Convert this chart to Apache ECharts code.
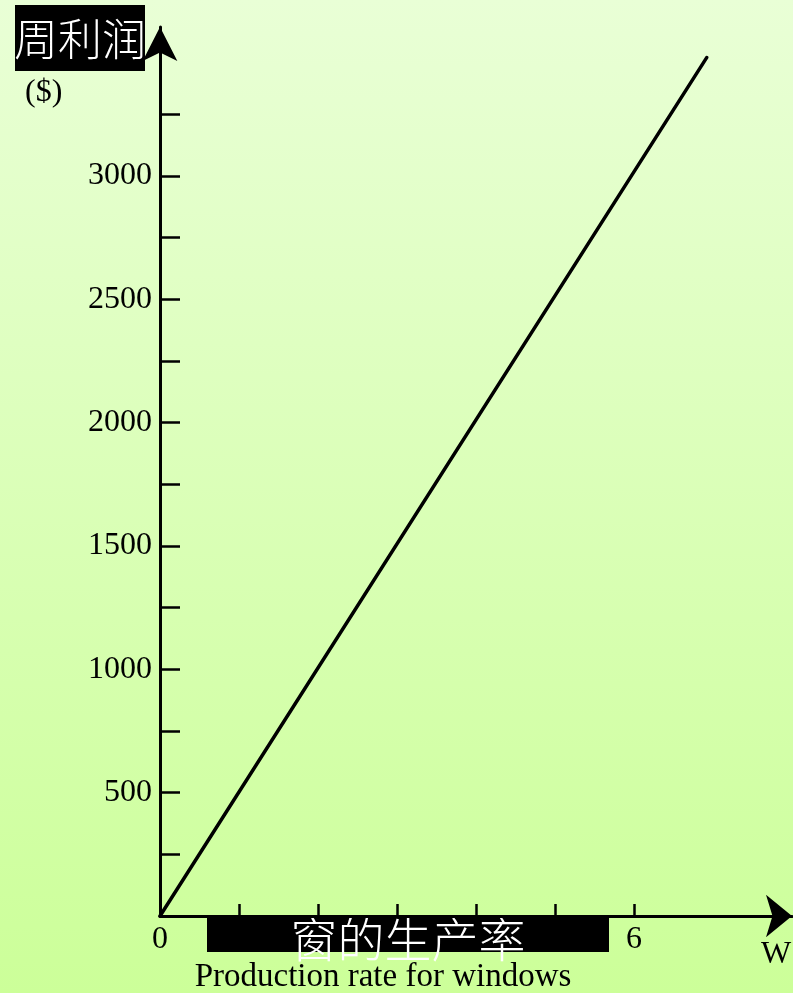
<!DOCTYPE html>
<html>
<head>
<meta charset="utf-8">
<script src="https://cdn.jsdelivr.net/npm/echarts@6/dist/echarts.min.js"></script>
<style>
  html, body { margin: 0; padding: 0; }
  #chart { width: 793px; height: 993px; }
</style>
</head>
<body>
<div id="chart"></div>
<script>
// Weekly profit as a function of the window production rate W
const profitLineW = [0, 6.92];
const profitLineP = [0, 3480];

// Axis ticks and labels
const yTickValues = [250, 500, 750, 1000, 1250, 1500, 1750, 2000, 2250, 2500, 2750, 3000, 3250];
const yLabelValues = [500, 1000, 1500, 2000, 2500, 3000];
const xTickValues = [1, 2, 3, 4, 5, 6];
const xLabelValues = [0, 6];

const serif = '"Liberation Serif", "DejaVu Serif", serif';
const cjk = '"Noto Sans CJK SC", sans-serif';

const chart = echarts.init(document.getElementById('chart'), null, { renderer: 'canvas' });

chart.setOption({
  backgroundColor: {
    type: 'linear', x: 0, y: 0, x2: 0, y2: 1,
    colorStops: [
      { offset: 0, color: '#e9ffd6' },
      { offset: 1, color: '#ccff99' }
    ]
  },
  animation: false,
  grid: { left: 160, right: 1, top: 27, bottom: 77 },
  xAxis: {
    type: 'value',
    min: 0,
    max: 8,
    interval: 1,
    splitLine: { show: false },
    axisLine: {
      show: true,
      lineStyle: { color: '#000', width: 3 },
      symbol: ['none', 'arrow'],
      symbolSize: [32, 26]
    },
    axisTick: {
      show: true,
      inside: true,
      length: 12,
      lineStyle: { color: '#000', width: 2.5 },
      customValues: xTickValues
    },
    axisLabel: {
      show: true,
      margin: 8,
      color: '#000',
      fontFamily: serif,
      fontSize: 32,
      formatter: v => String(v),
      customValues: xLabelValues
    }
  },
  yAxis: {
    type: 'value',
    min: 0,
    max: 3604,
    interval: 250,
    splitLine: { show: false },
    axisLine: {
      show: true,
      lineStyle: { color: '#000', width: 3 },
      symbol: ['none', 'arrow'],
      symbolSize: [26, 34]
    },
    axisTick: {
      show: true,
      inside: true,
      length: 20,
      lineStyle: { color: '#000', width: 2.5 },
      customValues: yTickValues
    },
    axisLabel: {
      show: true,
      margin: 8,
      color: '#000',
      fontFamily: serif,
      fontSize: 32,
      formatter: v => String(v),
      customValues: yLabelValues
    }
  },
  series: [{
    type: 'line',
    data: profitLineW.map((w, i) => [w, profitLineP[i]]),
    symbol: 'none',
    lineStyle: { color: '#000', width: 3.5, cap: 'round' },
    silent: true
  }],
  graphic: [
    // y-axis title block
    { type: 'rect', left: 15, top: 5, shape: { width: 130, height: 66 }, style: { fill: '#000' } },
    {
      type: 'text', x: 80, y: 39,
      style: { text: '周利润', fill: '#fff', font: '300 44px ' + cjk, align: 'center', verticalAlign: 'middle' }
    },
    {
      type: 'text', left: 25, top: 77,
      style: { text: '($)', fill: '#000', font: '32px ' + serif }
    },
    // x-axis title block
    { type: 'rect', left: 207, top: 916, shape: { width: 402, height: 36 }, style: { fill: '#000' } },
    {
      type: 'text', x: 408, y: 939,
      style: { text: '窗的生产率', fill: '#fff', font: '300 47px ' + cjk, align: 'center', verticalAlign: 'middle' }
    },
    {
      type: 'text', x: 383, y: 977,
      style: { text: 'Production rate for windows', fill: '#000', font: '33px ' + serif, align: 'center', verticalAlign: 'middle' }
    },
    {
      type: 'text', x: 776, y: 955,
      style: { text: 'W', fill: '#000', font: '32px ' + serif, align: 'center', verticalAlign: 'middle' }
    }
  ]
});
</script>
</body>
</html>
